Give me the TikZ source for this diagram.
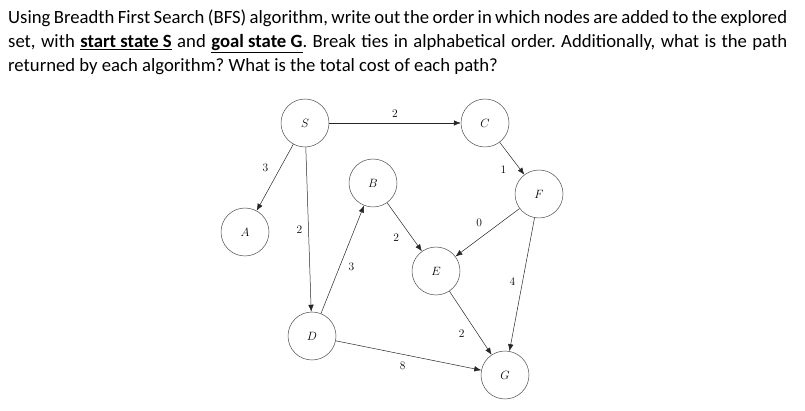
\documentclass[tikz,border=0pt]{standalone}
\usepackage{fontspec}
\newfontfamily\questionfont{Carlito}
\usetikzlibrary{arrows.meta}
\tikzset{
  state node/.style={
    circle, draw=black!70,   % thin grey ring
    line width=0.5pt,
    minimum size=48pt, inner sep=0pt,
    font=\fontsize{12}{14}\selectfont
  },
  edge style/.style={
    -{Latex[length=7pt,width=5.5pt]}, % filled arrow tip
    draw=black!85, line width=0.5pt
  },
  weight/.style={font=\fontsize{11.5}{13}\selectfont, inner sep=2pt}
}

\begin{document}
\frenchspacing
\hyphenpenalty=10000
\begin{tikzpicture}[x=1pt, y=-1pt]
    \useasboundingbox (0,0) rectangle (805,411);

    % The question above the graph
    \node[anchor=north west, inner sep=0pt, text width=779pt, align=justify,
          font=\questionfont\fontsize{18.7}{23.7}\selectfont] (question) at (8,10)
        {Using Breadth First Search (BFS) algorithm, write out the order in which nodes are added to the explored\linebreak
         set, with \underline{\textbf{start state S}} and \underline{\textbf{goal state G}}. Break ties in alphabetical order. Additionally, what is the path\linebreak
         returned by each algorithm? What is the total cost of each path?};

    % States of the search graph
    \node[state node] (S) at (305,123) {$S$};
    \node[state node] (C) at (485,123) {$C$};
    \node[state node] (B) at (373,183) {$B$};
    \node[state node] (F) at (539,194) {$F$};
    \node[state node] (A) at (245,232) {$A$};
    \node[state node] (E) at (436,271) {$E$};
    \node[state node] (D) at (312,336) {$D$};
    \node[state node] (G) at (505,375) {$G$};

    % Edges leaving S
    \draw[edge style] (S) -- node[weight, above=3pt] {2} (C);
    \draw[edge style] (S) -- node[weight, pos=0.35, left=10pt] {3} (A);
    \draw[edge style] (S) -- node[weight, pos=0.5, left=4pt] {2} (D);
    % middle of the graph
    \draw[edge style] (D) -- node[weight, pos=0.43, right=7pt] {3} (B);
    \draw[edge style] (B) -- node[weight, pos=0.72, left=11pt] {2} (E);
    \draw[edge style] (C) -- node[weight, pos=0.84, left=12pt] {1} (F);
    \draw[edge style] (F) -- node[weight, pos=0.63, above=10pt] {0} (E);
    % edges into the goal
    \draw[edge style] (F) -- node[weight, pos=0.48, left=5pt] {4} (G);
    \draw[edge style] (E) -- node[weight, pos=0.67, left=11pt] {2} (G);
    \draw[edge style] (D) -- node[weight, pos=0.46, below=5pt] {8} (G);
\end{tikzpicture}
\end{document}
